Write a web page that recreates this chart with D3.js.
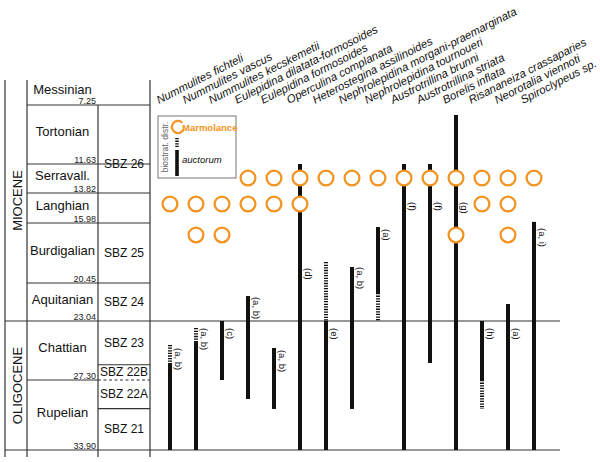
<!DOCTYPE html>
<html>
<head>
<meta charset="utf-8">
<script src="https://cdn.jsdelivr.net/npm/d3@7"></script>
<style>
  body { margin: 0; background: white; }
  text { font-family: "Liberation Sans", Arial, sans-serif; }
</style>
</head>
<body>
<script>
// stratigraphy (ages in Ma)
const topAge = 5.33;
const stageNames = ['Messinian', 'Tortonian', 'Serravall.', 'Langhian', 'Burdigalian', 'Aquitanian', 'Chattian', 'Rupelian'];
const stageBase = [7.25, 11.63, 13.82, 15.98, 20.45, 23.04, 27.30, 33.90];
const stageBaseLabels = ['7.25', '11.63', '13.82', '15.98', '20.45', '23.04', '27.30', '33.90'];
const zoneNames = ['SBZ 26', 'SBZ 25', 'SBZ 24', 'SBZ 23', 'SBZ 22B', 'SBZ 22A', 'SBZ 21'];
const zoneTop = [7.25, 15.98, 20.45, 23.04, 26.2, 27.30, 30.0];
const zoneBase = [15.98, 20.45, 23.04, 26.2, 27.30, 30.0, 33.90];
const epochNames = ['MIOCENE', 'OLIGOCENE'];
const epochTop = [5.33, 23.04];
const epochBase = [23.04, 33.90];

// taxa
const species = ['Nummulites fichteli', 'Nummulites vascus', 'Nummulites kecskemetii',
  'Eulepidina dilatata-formosoides', 'Eulepidina formosoides', 'Operculina complanata',
  'Heterostegina assilinoides', 'Nephrolepidina morgani-praemarginata', 'Nephrolepidina tournoueri',
  'Austrotrillina brunni', 'Austrotrillina striata', 'Borelis inflata',
  'Risananeiza crassaparies', 'Neorotalia viennoti', 'Spiroclypeus sp.'];
// auctorum ranges: solid = documented, dashed = uncertain
const solidRange = [[26.07, 33.9], [24.56, 33.9], [23.04, 27.3], [21.34, 29.09], [24.99, 30.03],
  [11.63, 33.9], [23.04, 33.9], [19.26, 30.03], [16.28, 21.13], [11.63, 33.9],
  [11.63, 26.07], [7.99, 33.9], [23.04, 27.3], [21.88, 33.9], [15.9, 33.9]];
const dashedRange = [[24.77, 26.07], [23.55, 24.56], null, null, null,
  null, [18.89, 23.04], null, [21.13, 23.04], null,
  null, null, [27.3, 30.03], null, null];
const notes = ['(a, b)', '(a, b)', '(c)', '(a, b)', '(a, b)', '(d)', '(e)', '(a, b)', '(a)',
  '(f)', '(f)', '(g)', '(h)', '(a)', '(a, i)'];
const noteAge = [24.99, 23.55, 23.55, 21.4, 25.13, 19.33, 23.55, 19.26, 16.43,
  14.47, 14.47, 14.47, 23.55, 23.55, 16.35];
// Marmolance occurrences
const marmolance = [[14.61], [14.61, 16.87], [14.61, 16.87], [12.69, 14.61], [12.69, 14.61],
  [12.69, 14.61], [12.69], [12.69], [12.69], [12.69],
  [12.69], [12.69, 16.87], [12.69, 14.61], [12.69, 14.61, 16.87], [12.69]];

const width = 600, height = 462;
const orange = '#f39321';
const ink = '#111';
const lineCol = '#333';

const svg = d3.select('body').append('svg')
  .attr('width', width)
  .attr('height', height);

const y = d3.scaleLinear()
  .domain([topAge, ...stageBase])
  .range([80, 105, 164, 193, 223, 283, 321, 380, 450]);

const x = d3.scalePoint()
  .domain(species)
  .range([170, 534]);

const colStage = [27, 98], colZone = [98, 150];
const chartRight = 560;

// frame lines
const frame = svg.append('g').attr('stroke', lineCol).attr('stroke-width', 1.2);
[5, 27, 150].forEach(xx => {
  frame.append('line').attr('x1', xx).attr('x2', xx).attr('y1', y(topAge)).attr('y2', 457);
});
frame.append('line').attr('x1', 98).attr('x2', 98).attr('y1', y(stageBase[0])).attr('y2', 457);

// epoch boundaries run across whole chart
epochBase.forEach(a => {
  frame.append('line').attr('x1', 5).attr('x2', chartRight).attr('y1', y(a)).attr('y2', y(a));
});
// stage boundaries
stageBase.forEach(a => {
  if (a === 23.04 || a === 33.90) return;
  frame.append('line')
    .attr('x1', colStage[0]).attr('x2', a === 27.30 ? colStage[1] : colZone[1])
    .attr('y1', y(a)).attr('y2', y(a));
});
// zone boundaries
zoneTop.forEach(a => {
  if ([7.25, 15.98, 20.45, 23.04].includes(a)) return;
  frame.append('line')
    .attr('x1', colZone[0]).attr('x2', colZone[1])
    .attr('y1', y(a)).attr('y2', y(a))
    .attr('stroke-dasharray', a === 27.30 ? '3,2.5' : null);
});

// epoch labels
svg.selectAll('.epoch')
  .data(epochNames)
  .enter()
  .append('text')
  .attr('transform', (d, i) => `translate(21.5,${(y(epochTop[i]) + y(epochBase[i])) / 2}) rotate(-90)`)
  .attr('text-anchor', 'middle')
  .attr('font-size', 13)
  .attr('fill', ink)
  .text(d => d);

// stage labels
svg.selectAll('.stage')
  .data(stageNames)
  .enter()
  .append('text')
  .attr('x', (colStage[0] + colStage[1]) / 2)
  .attr('y', (d, i) => (y(i === 0 ? topAge : stageBase[i - 1]) + y(stageBase[i])) / 2 + 1.5)
  .attr('text-anchor', 'middle')
  .attr('font-size', 13)
  .attr('fill', ink)
  .text(d => d);

svg.selectAll('.age')
  .data(stageBaseLabels)
  .enter()
  .append('text')
  .attr('x', colStage[1] - 2)
  .attr('y', (d, i) => y(stageBase[i]) - 1.5)
  .attr('text-anchor', 'end')
  .attr('font-size', 9)
  .attr('fill', '#222')
  .text(d => d);

// zone labels
svg.selectAll('.zone')
  .data(zoneNames)
  .enter()
  .append('text')
  .attr('x', (colZone[0] + colZone[1]) / 2)
  .attr('y', (d, i) => (y(zoneTop[i]) + y(zoneBase[i])) / 2 + 4)
  .attr('text-anchor', 'middle')
  .attr('font-size', 12)
  .attr('fill', ink)
  .text(d => d);

// species names
svg.selectAll('.sp')
  .data(species)
  .enter()
  .append('text')
  .attr('transform', d => `translate(${x(d) - 11},104) rotate(-27)`)
  .attr('font-size', 11.4)
  .attr('font-style', 'italic')
  .attr('fill', ink)
  .text(d => d);

// dashed (uncertain) ranges
svg.selectAll('.dash')
  .data(species.filter((d, i) => dashedRange[i]))
  .enter()
  .append('line')
  .attr('x1', d => x(d))
  .attr('x2', d => x(d))
  .attr('y1', d => y(dashedRange[species.indexOf(d)][0]))
  .attr('y2', d => y(dashedRange[species.indexOf(d)][1]))
  .attr('stroke', ink)
  .attr('stroke-width', 4)
  .attr('stroke-dasharray', '1.3,1.3');

// solid ranges
svg.selectAll('.bar')
  .data(species)
  .enter()
  .append('rect')
  .attr('x', d => x(d) - 2)
  .attr('width', 4)
  .attr('y', (d, i) => y(solidRange[i][0]))
  .attr('height', (d, i) => y(solidRange[i][1]) - y(solidRange[i][0]))
  .attr('fill', ink);

// footnote refs
svg.selectAll('.note')
  .data(notes)
  .enter()
  .append('text')
  .attr('transform', (d, i) => `translate(${x(species[i]) + 5},${y(noteAge[i])}) rotate(90)`)
  .attr('font-size', 9.5)
  .attr('fill', ink)
  .text(d => d);

// Marmolance occurrences
const occ = species.flatMap((s, i) => marmolance[i].map(a => ({ s, a })));
svg.selectAll('.occ')
  .data(occ)
  .enter()
  .append('circle')
  .attr('cx', d => x(d.s))
  .attr('cy', d => y(d.a))
  .attr('r', 7.4)
  .attr('fill', 'white')
  .attr('stroke', orange)
  .attr('stroke-width', 2.3);

// legend
const lg = svg.append('g');
lg.append('rect')
  .attr('x', 158).attr('y', 116).attr('width', 78).attr('height', 62)
  .attr('fill', 'white').attr('stroke', '#777').attr('stroke-width', 1);
lg.append('text')
  .attr('transform', 'translate(168,147) rotate(-90)')
  .attr('text-anchor', 'middle')
  .attr('font-size', 8.5)
  .attr('fill', '#666')
  .text('biostrat. distr.');
lg.append('path')
  .attr('transform', 'translate(178,127)')
  .attr('d', d3.arc()({ innerRadius: 5, outerRadius: 7.2, startAngle: Math.PI * 0.62, endAngle: Math.PI * 2.25 }))
  .attr('fill', orange);
lg.append('text')
  .attr('x', 182).attr('y', 131)
  .attr('font-size', 9.5).attr('font-weight', 'bold')
  .attr('fill', orange)
  .text('Marmolance');
lg.append('line')
  .attr('x1', 177).attr('x2', 177).attr('y1', 138).attr('y2', 148)
  .attr('stroke', ink).attr('stroke-width', 3.5).attr('stroke-dasharray', '1.3,1.3');
lg.append('rect')
  .attr('x', 175.2).attr('y', 150).attr('width', 3.6).attr('height', 26)
  .attr('fill', ink);
lg.append('text')
  .attr('x', 182).attr('y', 163)
  .attr('font-size', 9.5).attr('font-style', 'italic')
  .attr('fill', ink)
  .text('auctorum');
</script>
</body>
</html>
